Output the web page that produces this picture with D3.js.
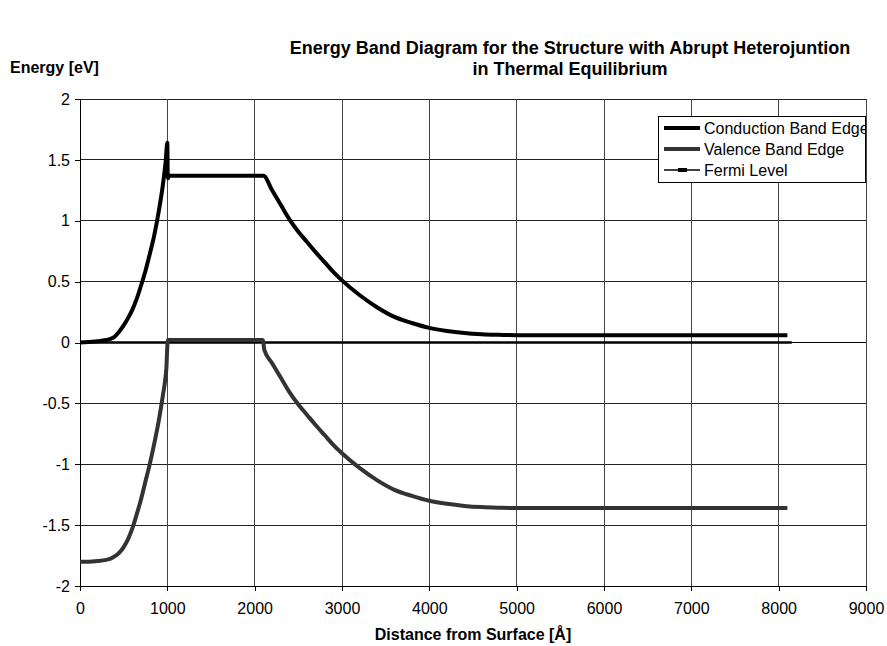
<!DOCTYPE html>
<meta charset="utf-8">
<head>
<title>Energy Band Diagram</title>
<style>
  body { margin: 0; background: #fff; }
  svg text { font-family: Arial, "Liberation Sans", sans-serif; fill: #000; }
</style>
<script src="https://d3js.org/d3.v7.min.js"></script>
</head>
<body>
<div id="chart"></div>
<script>

// distance from surface [A] and energy [eV]
var condX = [0, 100, 200, 300, 350, 400, 450, 500, 550, 600, 650, 700, 750, 800, 850, 900, 950, 980, 1000, 1004, 1008, 1020,
             1500, 2000, 2100, 2200, 2300, 2400, 2500, 2600, 2700, 2800, 2900, 3000, 3200, 3400, 3600, 3800, 4000,
             4200, 4400, 4600, 4800, 5000, 6000, 7000, 8000, 8100];
var condE = [0, 0.005, 0.01, 0.02, 0.03, 0.05, 0.09, 0.14, 0.2, 0.27, 0.36, 0.47, 0.59, 0.73, 0.88, 1.07, 1.3, 1.48, 1.64, 1.4, 1.35, 1.37,
             1.37, 1.37, 1.37, 1.25, 1.13, 1.01, 0.91, 0.825, 0.74, 0.66, 0.58, 0.51, 0.39, 0.29, 0.21, 0.16, 0.12,
             0.095, 0.078, 0.068, 0.063, 0.06, 0.06, 0.06, 0.06, 0.06];

var valX = [0, 100, 200, 300, 350, 400, 450, 500, 550, 600, 650, 700, 750, 800, 850, 900, 950, 975, 990, 1000, 1010,
            1500, 2090, 2100, 2110, 2200, 2300, 2400, 2500, 2600, 2700, 2800, 2900, 3000, 3200, 3400, 3600, 3800, 4000,
            4200, 4400, 4600, 4800, 5000, 6000, 7000, 8000, 8100];
var valE = [-1.8, -1.8, -1.795, -1.785, -1.775, -1.755, -1.725, -1.68, -1.615, -1.525, -1.41, -1.285, -1.14, -0.995, -0.83, -0.65, -0.43, -0.31, -0.2, -0.03, 0.02,
            0.02, 0.02, 0.0, -0.06, -0.17, -0.29, -0.41, -0.51, -0.595, -0.68, -0.76, -0.84, -0.91, -1.03, -1.13, -1.21, -1.26, -1.30,
            -1.325, -1.342, -1.352, -1.357, -1.36, -1.36, -1.36, -1.36, -1.36];

var fermiX = [0, 8150];
var fermiE = [0, 0];

var xTicks = [0, 1000, 2000, 3000, 4000, 5000, 6000, 7000, 8000, 9000];
var yTicks = [-2, -1.5, -1, -0.5, 0, 0.5, 1, 1.5, 2];
var yTickLabels = ["-2", "-1.5", "-1", "-0.5", "0", "0.5", "1", "1.5", "2"];

var seriesNames = ["Conduction Band Edge", "Valence Band Edge", "Fermi Level"];

var width = 887, height = 646;
var margin = {top: 99, right: 21, bottom: 60, left: 80};

var svg = d3.select("#chart")
  .append("svg")
    .attr("width", width)
    .attr("height", height);

var x = d3.scaleLinear()
  .domain([0, 9000])
  .range([margin.left, width - margin.right]);

var y = d3.scaleLinear()
  .domain([-2, 2])
  .range([height - margin.bottom, margin.top]);

// grid
svg.append("g")
  .selectAll("line")
  .data(yTicks)
  .enter().append("line")
    .attr("x1", x(0)).attr("x2", x(9000))
    .attr("y1", function(d) { return y(d); })
    .attr("y2", function(d) { return y(d); })
    .attr("stroke", "#222")
    .attr("stroke-width", 1)
    .attr("shape-rendering", "crispEdges");

svg.append("g")
  .selectAll("line")
  .data(xTicks)
  .enter().append("line")
    .attr("x1", function(d) { return x(d); })
    .attr("x2", function(d) { return x(d); })
    .attr("y1", y(2)).attr("y2", y(-2))
    .attr("stroke", "#444")
    .attr("stroke-width", 1)
    .attr("shape-rendering", "crispEdges");

// axes
var xAxis = d3.axisBottom(x).tickValues(xTicks).tickSize(5).tickPadding(12)
  .tickFormat(d3.format("d"));
var yAxis = d3.axisLeft(y).tickValues(yTicks).tickSize(5).tickPadding(5)
  .tickFormat(function(d, i) { return yTickLabels[i]; });

var gx = svg.append("g")
  .attr("transform", "translate(0," + y(-2) + ")")
  .call(xAxis);
var gy = svg.append("g")
  .attr("transform", "translate(" + x(0) + ",0)")
  .call(yAxis);

[gx, gy].forEach(function(g) {
  g.selectAll("path, line").attr("stroke", "#000").attr("shape-rendering", "crispEdges");
  g.selectAll("text").style("font-size", "16px").attr("fill", "#000");
});
gy.select(".domain").attr("d", "M0," + y(2) + "V" + y(-2));
gx.select(".domain").attr("d", "M" + x(0) + ",0H" + x(9000));

// zero axis line
svg.append("line")
  .attr("x1", x(0)).attr("x2", x(9000))
  .attr("y1", y(0)).attr("y2", y(0))
  .attr("stroke", "#000")
  .attr("shape-rendering", "crispEdges");

// curves
function pts(xs, es) { return xs.map(function(v, i) { return [v, es[i]]; }); }

var line = d3.line()
  .x(function(d) { return x(d[0]); })
  .y(function(d) { return y(d[1]); })
  .curve(d3.curveMonotoneX);

svg.append("path")
  .datum(pts(fermiX, fermiE))
  .attr("d", line)
  .attr("fill", "none")
  .attr("stroke", "#000")
  .attr("stroke-width", 2.5);

svg.append("path")
  .datum(pts(valX, valE))
  .attr("d", line)
  .attr("fill", "none")
  .attr("stroke", "#333")
  .attr("stroke-width", 4)
  .attr("stroke-linejoin", "round");

svg.append("path")
  .datum(pts(condX, condE))
  .attr("d", line)
  .attr("fill", "none")
  .attr("stroke", "#000")
  .attr("stroke-width", 4)
  .attr("stroke-linejoin", "round");

// legend
svg.append("clipPath").attr("id", "legclip")
  .append("rect").attr("x", 658).attr("y", 116).attr("width", 207).attr("height", 66);

var legend = svg.append("g").attr("clip-path", "url(#legclip)");
legend.append("rect")
  .attr("x", 658).attr("y", 116)
  .attr("width", 207).attr("height", 66)
  .attr("fill", "#fff");

var legStroke = ["#000", "#333", "#000"];
var legWidth = [4, 4, 1.5];

var rows = legend.selectAll("g.row")
  .data(seriesNames)
  .enter().append("g")
    .attr("class", "row")
    .attr("transform", function(d, i) { return "translate(0," + (128 + i * 21) + ")"; });

rows.append("line")
  .attr("x1", 664).attr("x2", 700)
  .attr("stroke", function(d, i) { return legStroke[i]; })
  .attr("stroke-width", function(d, i) { return legWidth[i]; });

rows.filter(function(d, i) { return i === 2; })
  .append("rect")
  .attr("x", 678).attr("y", -2).attr("width", 9).attr("height", 4)
  .attr("fill", "#000");

rows.append("text")
  .attr("x", 704)
  .attr("dy", "0.36em")
  .style("font-size", "16px")
  .text(function(d) { return d; });

svg.append("rect")
  .attr("x", 658).attr("y", 116)
  .attr("width", 207).attr("height", 66)
  .attr("fill", "none")
  .attr("stroke", "#000")
  .attr("shape-rendering", "crispEdges");

// titles
svg.append("text")
  .attr("x", 570).attr("y", 54)
  .attr("text-anchor", "middle")
  .style("font-size", "18px").style("font-weight", "bold")
  .text("Energy Band Diagram for the Structure with Abrupt Heterojuntion");
svg.append("text")
  .attr("x", 570).attr("y", 75)
  .attr("text-anchor", "middle")
  .style("font-size", "18px").style("font-weight", "bold")
  .text("in Thermal Equilibrium");

svg.append("text")
  .attr("x", 10).attr("y", 73)
  .style("font-size", "16px").style("font-weight", "bold")
  .text("Energy [eV]");

svg.append("text")
  .attr("x", (x(0) + x(9000)) / 2).attr("y", 640)
  .attr("text-anchor", "middle")
  .style("font-size", "16px").style("font-weight", "bold")
  .text("Distance from Surface [Å]");

</script>
</body>
